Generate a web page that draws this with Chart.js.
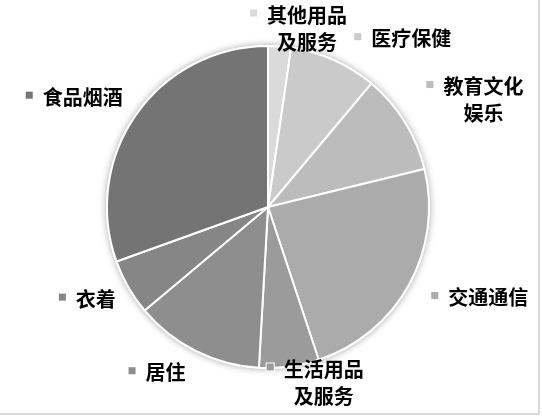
<!DOCTYPE html>
<html>
<head>
<meta charset="utf-8">
<script src="https://cdn.jsdelivr.net/npm/chart.js@4"></script>
<style>
  body { margin: 0; background: #fff; }
  canvas { display: block; }
</style>
</head>
<body>
<canvas id="pieChart" width="542" height="416"></canvas>
<script>
// data, clockwise from 12 o'clock
const categories = ['其他用品及服务', '医疗保健', '教育文化娱乐', '交通通信', '生活用品及服务', '居住', '衣着', '食品烟酒'];
const shares = [2.3, 8.8, 10.1, 23.7, 6.0, 13.0, 5.6, 30.5];

const sliceColors = ['#dadada', '#cacaca', '#bcbcbc', '#ababab', '#9b9b9b', '#8e8e8e', '#868686', '#747474'];
// small hand nudges for the outside labels (px)
const labelNudge = [[14, 0], [41, 6], [12, 1], [11, -2], [17, 0], [-17, -5], [1, -3], [-6, 0]];

const FONT = 20, LINE_H = 27, MARK = 7, GAP = 10;

function wrapLabel(s) {
    const out = [];
    for (let i = 0; i < s.length; i += 4) out.push(s.slice(i, i + 4));
    return out;
}

// soft shadow behind the pie
const pieShadow = {
    id: 'pieShadow',
    beforeDatasetsDraw(chart) {
        const arc = chart.getDatasetMeta(0).data[0];
        if (!arc) return;
        const { x, y, outerRadius } = arc.getProps(['x', 'y', 'outerRadius'], true);
        const ctx = chart.ctx;
        ctx.save();
        ctx.shadowColor = 'rgba(0,0,0,0.35)';
        ctx.shadowBlur = 7;
        ctx.fillStyle = '#fff';
        ctx.beginPath();
        ctx.arc(x, y, outerRadius + 1, 0, Math.PI * 2);
        ctx.fill();
        ctx.restore();
    }
};

// labels outside the slices with a little square marker
const outsideLabels = {
    id: 'outsideLabels',
    afterDatasetsDraw(chart) {
        const ctx = chart.ctx;
        const arcs = chart.getDatasetMeta(0).data;
        ctx.save();
        ctx.font = 'bold ' + FONT + 'px "Noto Sans CJK SC", sans-serif';
        ctx.textBaseline = 'middle';
        arcs.forEach((arc, i) => {
            const p = arc.getProps(['x', 'y', 'startAngle', 'endAngle', 'outerRadius'], true);
            const mid = (p.startAngle + p.endAngle) / 2;
            const dx = Math.cos(mid), dy = Math.sin(mid);
            const lines = wrapLabel(categories[i]);
            const firstW = ctx.measureText(lines[0]).width;
            const w = MARK + GAP + firstW;
            const h = FONT + (lines.length - 1) * LINE_H;
            const r = p.outerRadius + 20;
            let cx = p.x + dx * r + dx * w / 2 + labelNudge[i][0];
            let cy = p.y + dy * r + dy * h / 2 + labelNudge[i][1];
            let top = Math.max(5, Math.min(406 - h, cy - h / 2));
            const left = cx - w / 2;
            const textX = left + MARK + GAP;
            const textMid = textX + firstW / 2;
            // marker
            ctx.fillStyle = '#fff';
            ctx.fillRect(left - 1, top + FONT / 2 - 2 - MARK / 2 - 1, MARK + 2, MARK + 2);
            ctx.fillStyle = sliceColors[i];
            ctx.fillRect(left, top + FONT / 2 - 2 - MARK / 2, MARK, MARK);
            // text
            ctx.fillStyle = '#000';
            ctx.textAlign = 'center';
            lines.forEach((ln, k) => {
                ctx.fillText(ln, textMid, top + FONT / 2 + k * LINE_H);
            });
        });
        ctx.restore();
    }
};

// light frame on the right and bottom edges
const frame = {
    id: 'frame',
    afterDraw(chart) {
        const ctx = chart.ctx;
        ctx.save();
        ctx.fillStyle = '#d9d9d9';
        ctx.fillRect(538, 0, 2, 415);
        ctx.fillRect(0, 413, 540, 2);
        ctx.restore();
    }
};

window.onload = () => {
    new Chart(document.getElementById('pieChart'), {
        type: 'pie',
        data: {
            labels: categories,
            datasets: [{
                data: shares,
                backgroundColor: sliceColors,
                borderColor: '#ffffff',
                borderWidth: 2
            }]
        },
        options: {
            responsive: false,
            animation: false,
            devicePixelRatio: 1,
            layout: { padding: { top: 45, bottom: 47, left: 0, right: 6 } },
            plugins: {
                legend: { display: false },
                tooltip: { enabled: false }
            }
        },
        plugins: [pieShadow, outsideLabels, frame]
    });
};
</script>
</body>
</html>
